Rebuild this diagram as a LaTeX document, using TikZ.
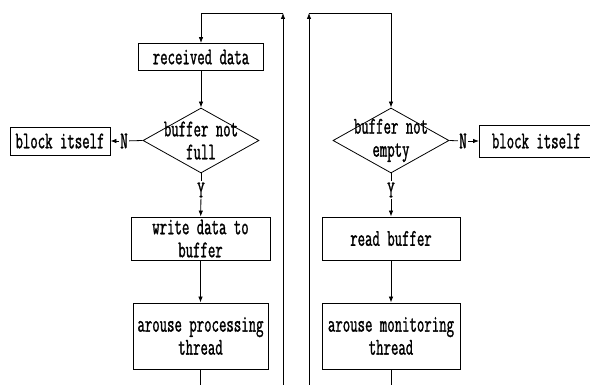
\documentclass[tikz,border=0pt]{standalone}
\usepackage{fontspec}
\setmainfont[FakeStretch=0.6, FakeBold=1.2]{Latin Modern Mono}
\usetikzlibrary{shapes.geometric,arrows.meta}

\begin{document}
\begin{tikzpicture}[x=1pt, y=-1pt, every path/.style={line width=.8pt}, >={Latex[length=6pt,width=4.5pt]},%
        every node/.style={font=\fontsize{24}{23}\selectfont, align=center}, box/.style={draw, inner sep=0pt},
        decision/.style={draw, diamond, minimum width=116pt, minimum height=65pt, inner sep=0pt}, lbl/.style={inner sep=1pt}]
        \useasboundingbox (0,0) rectangle (590,385);
        % writer side
        \node[box, minimum width=125pt, minimum height=27pt] (recv) at (201,57) {received data};
        \node[decision] (full) at (201,140.5) {};
        \node (fulltxt) at (201,140.5) {buffer not\\full};
        \node[lbl] (nL) at (124,141) {N};
        \node[box, minimum width=100pt, minimum height=28pt] (blockL) at (60,141) {block itself};
        \node[lbl] (yL) at (201,190) {Y};
        \node[box, minimum width=139pt, minimum height=43pt] (write) at (200.5,238.5) {write data to\\buffer};
        \node[box, minimum width=135pt, minimum height=66pt] (wakeP) at (200.5,336) {arouse processing\\thread};
        \coordinate (botL) at (200.5,385);
        \coordinate (upL) at (283,385);
        \coordinate (topL) at (283,13);
        \coordinate (cornL) at (201,13);
        % reader side
        \node[decision] (empty) at (391,140.5) {};
        \node (emptytxt) at (391,140.5) {buffer not\\empty};
        \node[lbl] (nR) at (463,141) {N};
        \node[box, anchor=west, minimum width=114pt, minimum height=32pt] (blockR) at (479,141) {block itself};
        \node[lbl] (yR) at (391,190) {Y};
        \node[box, minimum width=138pt, minimum height=43pt] (read) at (391,238.5) {read buffer};
        \node[box, minimum width=138pt, minimum height=66pt] (wakeM) at (391,336) {arouse monitoring\\thread};
        \coordinate (botR) at (391,385);
        \coordinate (upR) at (309,385);
        \coordinate (topR) at (309,13);
        \coordinate (cornR) at (391,13);

        \draw[->] (recv) -- (full);
        \draw (full.west) -- (nL);
        \draw[->] (nL) -- (blockL);
        \draw (full.south) -- (yL);
        \draw[->] (yL) -- (write);
        \draw[->] (write) -- (wakeP);
        \draw (wakeP) -- (botL);
        \draw[->] (upL) -- (topL);
        \draw[->] (topL) -- (cornL) -- (recv);

        \draw (empty.east) -- (nR);
        \draw[->] (nR) -- (blockR);
        \draw (empty.south) -- (yR);
        \draw[->] (yR) -- (read);
        \draw[->] (read) -- (wakeM);
        \draw (wakeM) -- (botR);
        \draw[->] (upR) -- (topR);
        \draw[->] (topR) -- (cornR) -- (empty);
    \end{tikzpicture}
\end{document}
